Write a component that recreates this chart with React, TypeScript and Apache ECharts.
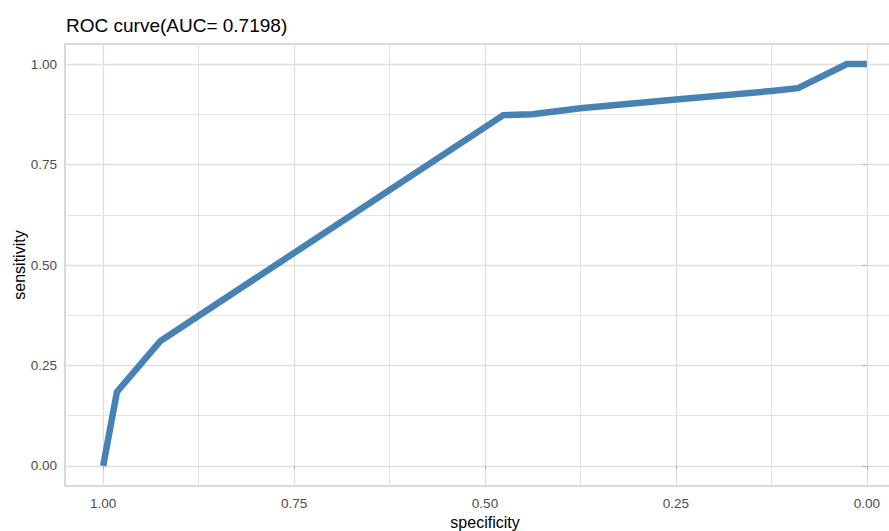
import React, { useEffect, useRef } from "react";
import * as echarts from "echarts";

const titleText = "ROC curve(AUC= 0.7198)";
const specificity = [1.0, 0.982, 0.925, 0.476, 0.438, 0.375, 0.25, 0.125, 0.09, 0.026, 0.0];
const sensitivity = [0.0, 0.184, 0.311, 0.873, 0.875, 0.89, 0.912, 0.933, 0.94, 1.0, 1.0];
const majorTicks = [0, 0.25, 0.5, 0.75, 1];
const minorTicks = [0.125, 0.375, 0.625, 0.875];

const FONT = "'Liberation Sans', Arial, sans-serif";

export default function App() {
  const ref = useRef<HTMLDivElement>(null);
  useEffect(() => {
    document.body.style.margin = "0";
    if (!ref.current) return;
    const chart = echarts.init(ref.current, undefined, { renderer: "svg" });
    const data = specificity.map((s, i) => [s, sensitivity[i]]);
    const fmt = (v: number) => v.toFixed(2);
    const baseAxis = {
      type: "value" as const,
      min: -0.05,
      max: 1.05,
      axisLine: { show: false },
    };
    chart.setOption({
      animation: false,
      backgroundColor: "#ffffff",
      title: {
        text: titleText,
        left: 61,
        top: 11,
        textStyle: { fontFamily: FONT, fontSize: 19, fontWeight: "normal", color: "#000000" },
      },
      grid: {
        left: 65,
        top: 44,
        width: 840,
        height: 442,
        outerBoundsMode: "none",
        containLabel: false,
        show: true,
        borderColor: "#B3B3B3",
        borderWidth: 1,
        backgroundColor: "#ffffff",
      },
      xAxis: [
        {
          ...baseAxis,
          inverse: true,
          name: "specificity",
          nameLocation: "middle",
          nameGap: 28,
          nameTextStyle: { fontFamily: FONT, fontSize: 16, color: "#000000" },
          axisTick: { show: true, customValues: majorTicks, length: 4, lineStyle: { color: "#B3B3B3" } },
          axisLabel: { customValues: majorTicks, formatter: fmt, margin: 10, fontFamily: FONT, fontSize: 13.5, color: "#4D4D4D" },
          splitLine: { show: true, lineStyle: { color: "#DEDEDE", width: 1.3 } },
        },
        {
          ...baseAxis,
          inverse: true,
          axisTick: { show: false, customValues: minorTicks },
          axisLabel: { show: false, customValues: minorTicks },
          splitLine: { show: true, lineStyle: { color: "#E3E3E3", width: 1 } },
        },
      ],
      yAxis: [
        {
          ...baseAxis,
          name: "sensitivity",
          nameLocation: "middle",
          nameGap: 38,
          nameMoveOverlap: false,
          nameTextStyle: { fontFamily: FONT, fontSize: 16, color: "#000000" },
          axisTick: { show: true, customValues: majorTicks, length: 4, lineStyle: { color: "#B3B3B3" } },
          axisLabel: { customValues: majorTicks, formatter: fmt, margin: 8, fontFamily: FONT, fontSize: 13.5, color: "#4D4D4D" },
          splitLine: { show: true, lineStyle: { color: "#DEDEDE", width: 1.3 } },
        },
        {
          ...baseAxis,
          axisTick: { show: false, customValues: minorTicks },
          axisLabel: { show: false, customValues: minorTicks },
          splitLine: { show: true, lineStyle: { color: "#E3E3E3", width: 1 } },
        },
      ],
      series: [
        {
          type: "line",
          xAxisIndex: 0,
          yAxisIndex: 0,
          data,
          symbol: "none",
          clip: false,
          lineStyle: { color: "#4682B4", width: 6.5, cap: "butt", join: "miter" },
          z: 5,
        },
      ],
    });
    return () => chart.dispose();
  }, []);
  return <div ref={ref} style={{ width: 889, height: 531 }} />;
}
